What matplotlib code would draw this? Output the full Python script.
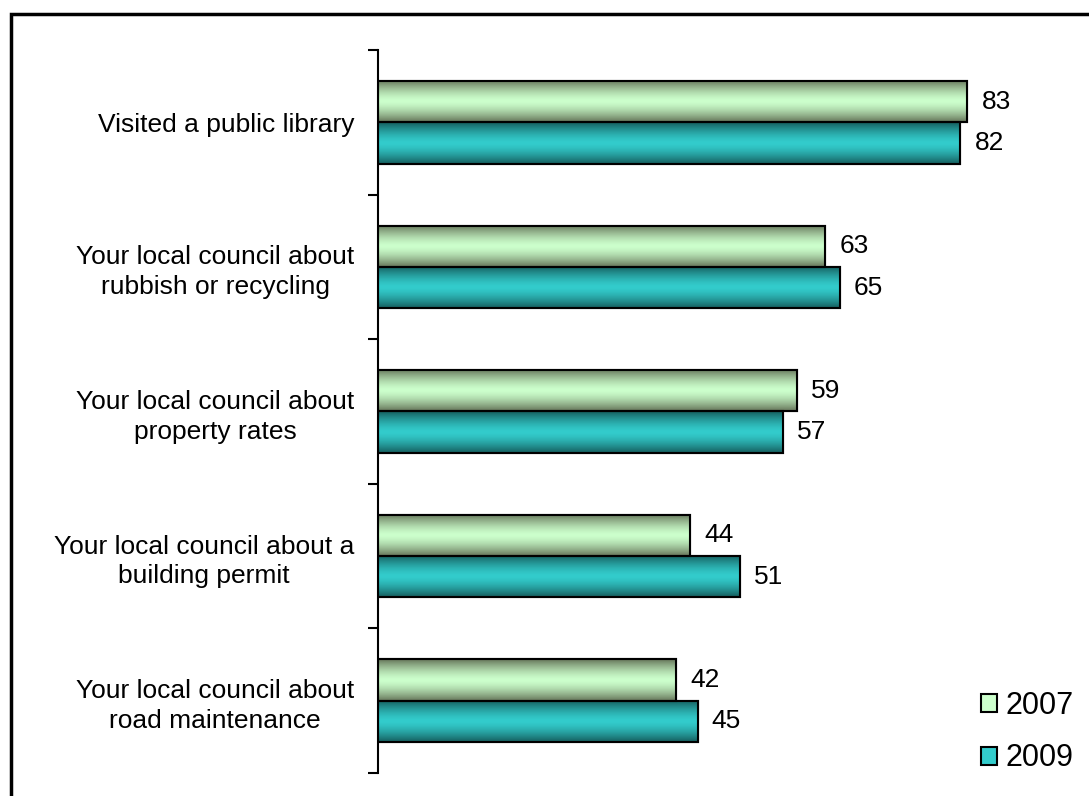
import matplotlib.pyplot as plt
import numpy as np
from matplotlib.colors import LinearSegmentedColormap
from matplotlib.patches import Rectangle

plt.rcParams['font.family'] = ['Liberation Sans', 'DejaVu Sans']

categories = ["Visited a public library",
              "Your local council about\nrubbish or recycling",
              "Your local council about\nproperty rates",
              "Your local council about a\nbuilding permit",
              "Your local council about\nroad maintenance"]
years = ["2007", "2009"]
vals_2007 = [83, 63, 59, 44, 42]
vals_2009 = [82, 65, 57, 51, 45]

# edge (dark) and centre (light) colours of each series
shades = {"2007": ("#66765a", "#ccffcc"), "2009": ("#155e5e", "#33cccc")}

fig = plt.figure(figsize=(10.89, 7.96), dpi=100)
ax = fig.add_axes([378 / 1089, 23 / 796, 710 / 1089, 723 / 796])

# outer frame (only top and left visible)
fig.patches.append(Rectangle((11 / 1089, -0.1), 1.2, (796 - 14) / 796 + 0.1,
                             transform=fig.transFigure, fill=False,
                             ec="black", lw=2.5))

y = np.arange(len(categories))
h = 0.285
t = np.linspace(0, 1, 64)
prof = np.abs(2 * t - 1) ** 1.5

for k, (yr, vals) in enumerate(zip(years, [vals_2007, vals_2009])):
    dark, light = shades[yr]
    pos = y - h / 2 + k * h
    bars = ax.barh(pos, vals, height=h, color=light, edgecolor="black",
                   lw=1.5, label=yr, zorder=1)
    cmap = LinearSegmentedColormap.from_list(yr, [light, dark])
    for b in bars:
        x0, y0 = b.get_x(), b.get_y()
        ax.imshow(prof[:, None], cmap=cmap, vmin=0, vmax=1, aspect="auto",
                  extent=(x0, x0 + b.get_width(), y0 + b.get_height(), y0),
                  zorder=2)
    ax.barh(pos, vals, height=h, fill=False, edgecolor="black", lw=1.5,
            zorder=3)
    for p, v in zip(pos, vals):
        ax.text(v + 2, p, str(v), va="center", ha="left", fontsize=19)

ax.set_xlim(0, 100)
ax.set_ylim(len(categories) - 0.5, -0.5)
ax.set_yticks(np.arange(len(categories) + 1) - 0.5)
ax.set_yticklabels([])
ax.set_yticks(y, minor=True)
ax.set_yticklabels(categories, minor=True, fontsize=19, ha="right",
                   multialignment="center", linespacing=1.3)
ax.tick_params(axis="y", which="minor", length=0, pad=17)
ax.tick_params(axis="y", which="major", length=7, width=1.5, direction="out")
ax.set_xticks([])
for s in ["top", "right", "bottom"]:
    ax.spines[s].set_visible(False)
ax.spines["left"].set_linewidth(1.5)

ax.legend(loc="center left", bbox_to_anchor=(981 / 1089, 1 - 732 / 796),
          bbox_transform=fig.transFigure, frameon=False, fontsize=22,
          handlelength=0.52, handleheight=0.52, handletextpad=0.28,
          labelspacing=0.75, borderpad=0, borderaxespad=0)

fig.savefig("out.png", dpi=100)
